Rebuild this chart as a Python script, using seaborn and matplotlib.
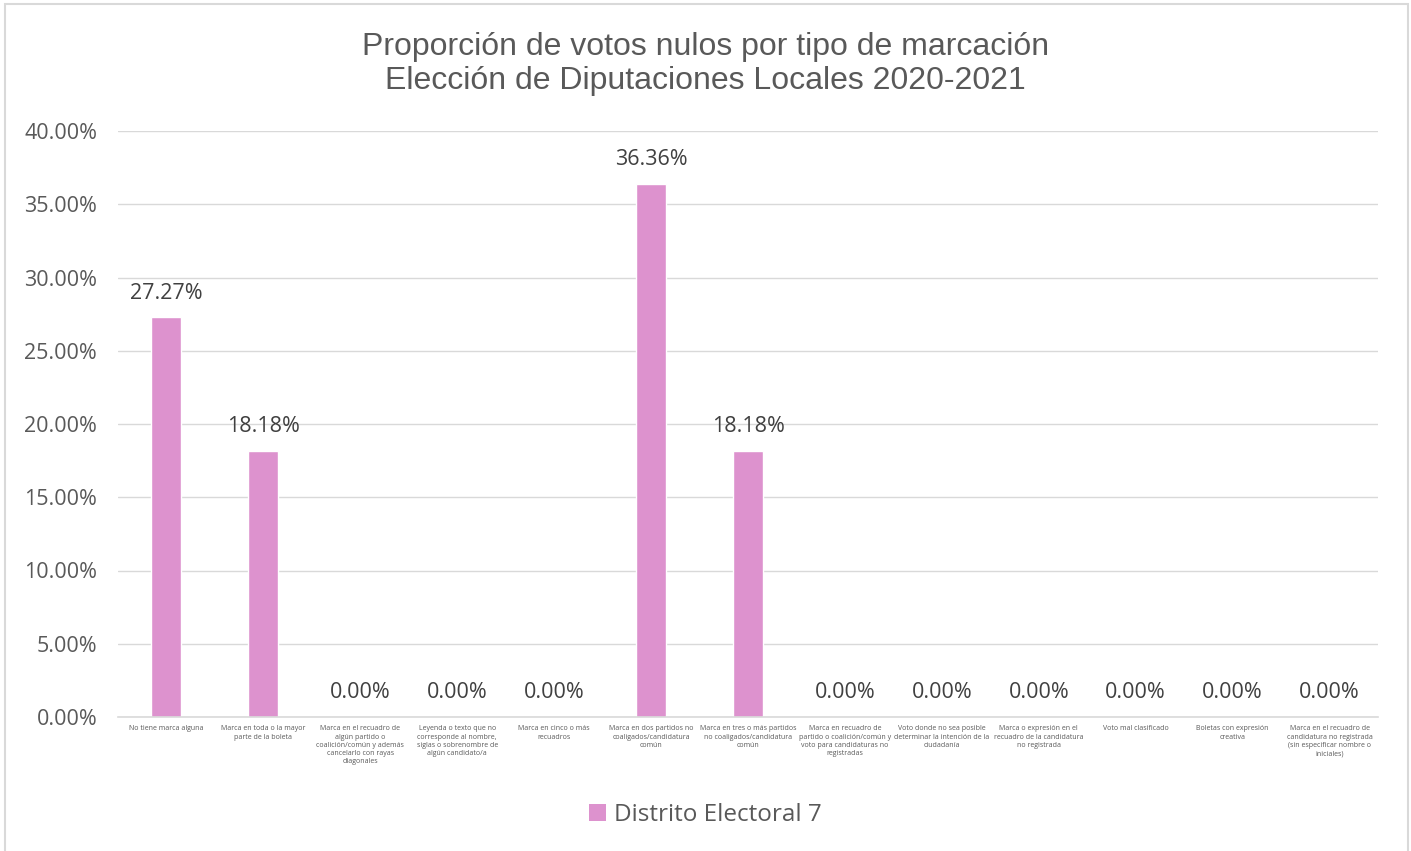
import numpy as np
import seaborn as sns
import matplotlib.pyplot as plt
from matplotlib.patches import Patch, Rectangle

# data
categorias = [
    "No tiene marca alguna",
    "Marca en toda o la mayor\nparte de la boleta",
    "Marca en el recuadro de\nalgún partido o\ncoalición/común y además\ncancelarlo con rayas\ndiagonales",
    "Leyenda o texto que no\ncorresponde al nombre,\nsiglas o sobrenombre de\nalgún candidato/a",
    "Marca en cinco o más\nrecuadros",
    "Marca en dos partidos no\ncoaligados/candidatura\ncomún",
    "Marca en tres o más partidos\nno coaligados/candidatura\ncomún",
    "Marca en recuadro de\npartido o coalición/común y\nvoto para candidaturas no\nregistradas",
    "Voto donde no sea posible\ndeterminar la intención de la\nciudadanía",
    "Marca o expresión en el\nrecuadro de la candidatura\nno registrada",
    "Voto mal clasificado",
    "Boletas con expresión\ncreativa",
    "Marca en el recuadro de\ncandidatura no registrada\n(sin especificar nombre o\niniciales)",
]
proporcion = [27.27, 18.18, 0.0, 0.0, 0.0, 36.36, 18.18, 0.0, 0.0, 0.0, 0.0, 0.0, 0.0]
serie = "Distrito Electoral 7"
yticks = [0, 5, 10, 15, 20, 25, 30, 35, 40]

sns.set_style("white")
plt.rcParams['font.family'] = ['Open Sans', 'DejaVu Sans']

bar_color = '#DD92CE'
txt_color = '#595959'
grid_color = '#D9D9D9'

fig = plt.figure(figsize=(14.11, 8.51), dpi=100)
# chart frame (bottom edge falls outside the image)
fig.patches.append(Rectangle((5/1411, -0.05), 1403/1411, 1.05 - 4/851,
                             transform=fig.transFigure, fill=False,
                             edgecolor=grid_color, linewidth=1.5))

ax = fig.add_axes([118/1411, 1 - 717/851, (1378-118)/1411, (717-131)/851])

sns.barplot(x=list(range(len(categorias))), y=proporcion, color=bar_color,
            width=0.31, saturation=1, ax=ax)

ax.set_ylim(0, 40)
ax.set_xlim(-0.5, len(categorias) - 0.5)
ax.set_yticks(yticks)
ax.set_yticklabels(['{:.2f}%'.format(v) for v in yticks], fontsize=15.5, color=txt_color)
ax.yaxis.grid(True, color=grid_color, linewidth=1)
ax.set_axisbelow(True)
ax.set_xticks(range(len(categorias)))
ax.set_xticklabels(categorias, fontsize=5, color=txt_color, linespacing=1.25,
                   va='top', ha='center')
ax.tick_params(axis='both', length=0)
ax.tick_params(axis='x', pad=6)
ax.tick_params(axis='y', pad=15)
for s in ['top', 'right', 'left']:
    ax.spines[s].set_visible(False)
ax.spines['bottom'].set_color(grid_color)
ax.spines['bottom'].set_linewidth(1.2)

ax.bar_label(ax.containers[0], labels=['{:.2f}%'.format(v) for v in proporcion],
             padding=10, fontsize=15.5, color='#404040')

fig.text(0.5, 1 - 47/851, "Proporción de votos nulos por tipo de marcación",
         ha='center', va='center', fontsize=23, color=txt_color, family='Liberation Sans')
fig.text(0.5, 1 - 81/851, "Elección de Diputaciones Locales 2020-2021",
         ha='center', va='center', fontsize=23, color=txt_color, family='Liberation Sans')

handles = [Patch(facecolor=bar_color, edgecolor='none', label=serie)]
fig.legend(handles=handles, loc='center', bbox_to_anchor=(0.5, 1 - 815/851),
           frameon=False, fontsize=17.5, labelcolor=txt_color,
           handlelength=0.7, handleheight=0.7, handletextpad=0.3)

fig.savefig('out.png', dpi=100)
